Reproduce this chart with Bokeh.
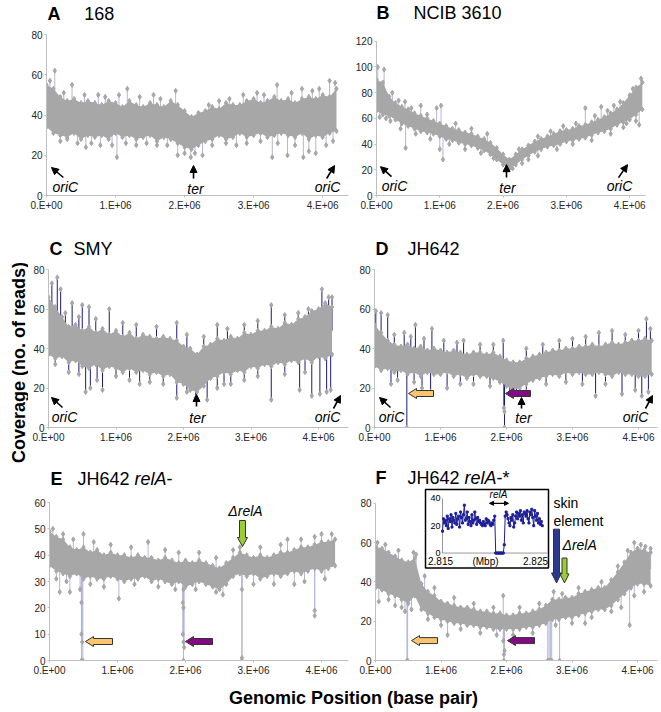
from math import pi
import numpy as np
from bokeh.plotting import figure
from bokeh.layouts import row, column
from bokeh.models import FixedTicker, Label, Range1d, Arrow, NormalHead
from bokeh.embed import file_html
from bokeh.resources import INLINE

FONT = "Liberation Sans"
GRAY = "#A7A7A7"
LAV = "#B4B4DA"
NAVY = "#1A1A80"

# genomic positions (Mbp) of the sampled band
POS = [0.0, 0.1, 0.2, 0.3, 0.4, 0.5, 0.6, 0.7, 0.8, 0.9,
       1.0, 1.1, 1.2, 1.3, 1.4, 1.5, 1.6, 1.7, 1.8, 1.9,
       2.0, 2.1, 2.2, 2.3, 2.4, 2.5, 2.6, 2.7, 2.8, 2.9,
       3.0, 3.1, 3.2, 3.3, 3.4, 3.5, 3.6, 3.7, 3.8, 3.9,
       4.0, 4.1, 4.2]
X_TICKS = [0, 1, 2, 3, 4]
X_TICK_LABELS = ["0.E+00", "1.E+06", "2.E+06", "3.E+06", "4.E+06"]

# Panel A: 168
A_LO = [34,31,30,29,31,28,30,29,30,28,31,29,30,28,29,30,27,29,28,26,24,23,25,27,28,30,28,29,31,29,30,31,29,30,31,30,29,31,28,30,29,31,32]
A_HI = [55,53,49,47,48,46,47,46,45,47,46,44,47,45,44,46,45,44,47,45,42,39,41,42,44,43,46,45,45,47,48,46,47,49,47,48,46,48,49,48,50,49,53]
A_SPK_X = [0.05,0.12,0.37,1.17,1.87,3.34,4.10,4.18,2.50,3.70,0.57,0.78,1.02,1.30,1.90,2.09,2.26,2.90,3.27,3.49,3.72,3.90,0.30,
           0.25,0.55,0.75,0.85,1.05,1.35,1.55,1.65,2.35,2.65,2.85,3.05,3.15,3.55,3.85,3.95,
           0.20,0.45,0.65,0.95,1.15,1.45,1.60,1.75,2.00,2.15,2.40,2.60,2.75,3.10,3.35,3.60,3.80,4.05,4.15]
A_SPK_V = [57,62,55,53,52,55,57,56,47,53,24,25,19,25,20,19,20,26,19,20,19,21,28,
           51,50,50,49,50,49,50,48,45,48,50,51,50,51,52,53,
           27,26,26,25,26,26,25,25,21,21,25,26,25,27,26,25,22,25,27]

# Panel B: NCIB 3610
B_LO = [66,63,62,59,56,54,52,50,49,48,46,44,43,41,40,39,37,35,32,28,24,21,24,28,31,34,36,38,39,40,42,43,44,45,47,49,50,52,55,57,59,63,67]
B_HI = [90,88,77,72,69,67,64,62,60,58,56,54,52,51,49,48,46,44,41,37,32,28,32,36,39,42,44,46,48,50,51,52,54,55,57,59,61,64,67,72,78,84,88]
B_SPK_X = [0.02,0.12,0.45,0.70,0.95,1.02,3.30,3.55,3.75,0.05,0.46,1.00,1.05,2.40,3.95,4.15,0.15,
           0.25,0.35,0.55,0.80,1.25,1.50,1.75,2.25,2.55,2.75,2.95,3.15,3.45,3.65,3.85,4.05,4.18,
           0.22,0.38,0.62,0.85,1.15,1.40,1.65,1.85,2.15,2.30,2.55,2.85,3.10,3.40,3.70,3.90,4.10]
B_SPK_V = [100,98,73,70,68,70,68,69,70,61,37,36,28,28,56,55,60,
           80,74,68,63,56,52,48,36,46,50,54,56,62,66,73,83,91,
           58,52,48,44,40,36,33,29,21,25,31,36,40,43,48,53,58]

# Panel C: SMY
C_LO = [37,35,36,33,34,31,30,32,29,31,30,28,30,28,29,27,28,26,27,23,22,19,18,21,25,26,28,27,29,28,31,30,32,31,33,32,34,33,35,33,36,35,37]
C_HI = [66,61,56,51,52,49,51,48,50,47,49,46,48,45,47,46,45,46,45,44,41,40,37,41,42,45,44,46,45,48,47,49,49,51,50,53,52,55,56,59,60,63,61]
C_SPK_X = [0.05,0.13,0.18,0.35,0.50,0.60,0.90,1.90,2.50,3.30,3.70,4.05,4.15,0.10,0.55,0.62,0.72,0.80,1.00,1.35,1.90,2.18,2.35,2.50,2.70,3.30,3.72,3.90,4.02,4.12,4.18,
           0.25,0.45,0.70,1.10,1.30,1.60,2.05,2.30,2.65,2.90,3.10,3.50,3.85,4.20,
           0.30,0.45,1.20,1.50,1.70,2.05,2.60,2.90,3.10,3.50,3.80]
C_SPK_V = [73,76,70,63,62,61,60,53,52,62,58,70,66,32,18,20,24,19,26,22,15,15,14,20,22,14,19,16,17,18,19,
           58,56,55,53,52,51,47,46,50,52,54,57,60,66,
           28,27,24,23,22,18,22,24,26,27,28]

# Panel D: JH642
D_LO = [31,29,30,28,29,27,28,26,28,27,27,28,26,27,25,27,26,26,25,23,21,19,20,22,24,25,26,27,26,28,27,28,27,27,28,27,26,28,27,27,26,26,27]
D_HI = [52,48,44,42,41,42,40,41,39,40,39,38,39,38,37,38,38,37,38,36,34,33,33,35,36,37,38,39,39,40,40,41,41,42,41,42,43,42,43,44,44,45,44]
D_SPK_X = [0.02,0.10,0.20,0.45,0.62,0.87,1.35,1.95,3.40,3.60,4.12,4.18,0.49,1.97,1.97,1.96,0.25,0.72,0.85,1.10,2.15,3.35,3.75,3.95,4.05,4.15,
           0.30,0.55,0.75,1.05,1.25,1.60,1.80,2.30,2.55,2.80,3.00,3.20,3.80,4.00,
           0.35,0.60,1.30,1.50,1.75,2.05,2.30,2.60,2.90,3.15,3.50]
D_SPK_V = [59,58,57,48,52,50,44,44,48,49,55,50,0,0,8,10,22,20,18,20,17,16,17,19,16,18,
           47,46,45,44,43,42,42,40,42,44,45,46,47,49,
           24,23,22,22,21,17,18,22,23,22,22]

# Panel E: JH642 relA-
E_LO = [36,34,33,32,33,31,32,31,31,32,31,30,31,31,32,30,31,30,29,30,28,29,30,29,28,27,29,32,33,32,33,31,32,33,32,33,34,33,34,35,34,35,36]
E_HI = [49,47,46,43,42,43,41,42,40,41,40,40,39,40,39,39,38,39,38,37,38,37,38,37,36,35,37,39,41,40,39,40,39,40,41,41,42,43,43,44,45,45,46]
E_SPK_X = [0.05,0.50,1.45,2.70,3.40,3.50,4.00,0.47,0.47,0.48,0.47,0.49,1.97,1.96,1.97,1.96,1.97,1.98,1.97,2.83,2.83,2.83,3.90,3.90,0.15,0.30,1.02,0.45,3.60,
           0.20,0.35,0.65,0.90,1.20,1.70,1.90,2.20,2.45,2.80,3.10,3.70,3.90,4.15,
           0.10,0.25,0.60,0.80,1.25,1.60,1.85,2.15,2.45,2.55,3.00,3.30,3.75,4.05]
E_SPK_V = [50,48,45,42,44,46,48,22,10,7,0,0,27,22,20,10,7,5,0,27,1,0,19,17,26,26,23.5,27,29,
           48,46,45,44,43,42,41,41,39,43,43,46,47,48,
           31,30,29,28,29,28,27,27,26,25,29,29,30,31]

# Panel F: JH642 relA-*
F_LO = [37,36,34,33,31,29,33,26,24,22,21,20,19,19,18,18,17,17,16,16,16,16,16,17,17,18,19,21,21,22,22,23,24,25,26,26,28,31,34,37,39,39,38]
F_HI = [58,57,55,53,51,50,52,39,35,33,30,29,28,27,27,26,25,25,24,24,23,23,24,24,25,26,28,31,31,32,32,34,35,36,37,37,41,45,50,55,57,56,55]
F_SPK_X = [0.03,0.62,1.95,2.72,3.85,3.95,4.12,0.48,0.49,0.45,1.96,1.96,1.97,1.95,2.63,2.65,2.67,2.69,2.81,3.88,0.05,0.30,1.10,3.20,
           0.15,0.35,0.58,0.75,0.90,1.20,1.50,1.80,2.20,2.50,2.85,3.10,3.45,3.70,4.05,4.20,
           0.20,0.40,0.55,0.80,1.00,1.30,1.60,1.85,2.10,2.40,2.75,3.00,3.30,3.60,3.75,3.95,4.10]
F_SPK_V = [60,54,33,35,56,60,58,0,0,25,0,3,5,10,0,0,0,0,0,18,30,28,13,19,
           59,56,55,43,37,32,29,27,27,29,34,37,40,48,59,57,
           31,27,26,21,18,16,14,13,13,14,18,19,22,25,27,33,35]

# Inset (relA region, Mbp)
INSET_START = 2.815
INSET_STEP = 0.0001
INSET_V = [16,25,22,24,20,27,18,25,23,28,19,26,24,22,29,21,25,27,19,30,
           26,22,28,35,24,25,30,21,26,23,20,28,22,24,30,25,21,26,23,24,
           22,21,20,23,21,20,25,22,24,23,21,20,22,21,24,27,
           0,0,0,0,0,0,0,0,0,6,
           27,30,28,25,22,20,26,24,28,19,22,27,30,25,29,27,31,24,28,22,
           30,29,27,31,25,22,30,28,32,26,20,31,27,24,29,22,25,21,23,20]
INSET_X = [INSET_START + INSET_STEP * i for i in range(len(INSET_V))]


def make_panel(ox, oy, w, h, bl, br, ftop, atop, abot, xe, yticks):
    ymax = yticks[-1]
    bt = ftop - oy
    fh = abot - ftop
    bb = h - bt - fh
    ye = ymax * (abot - ftop) / (abot - atop)
    p = figure(width=w, height=h, x_range=Range1d(0, xe), y_range=Range1d(0, ye),
               output_backend="svg", toolbar_location=None, title=None,
               min_border_left=bl, min_border_right=br, min_border_top=bt, min_border_bottom=bb)
    p.grid.visible = False
    p.outline_line_color = None
    p.xaxis.ticker = FixedTicker(ticks=X_TICKS)
    p.xaxis.major_label_overrides = {t: l for t, l in zip(X_TICKS, X_TICK_LABELS)}
    p.yaxis.ticker = FixedTicker(ticks=yticks)
    p.yaxis.bounds = (0, ymax)
    for ax in p.axis:
        ax.axis_line_color = "#BFBFBF"
        ax.major_tick_line_color = "#BFBFBF"
        ax.minor_tick_line_color = None
        ax.major_tick_out = 2
        ax.major_tick_in = 0
        ax.major_label_standoff = 2
        ax.major_label_text_font = FONT
        ax.major_label_text_font_size = "10px"
        ax.major_label_text_color = "#262626"
    fl = ox + bl
    fw = w - bl - br
    geom = dict(fl=fl, ft=ftop, fw=fw, fh=fh)

    def dx(px):
        return (px - fl) / fw * xe

    def dy(py):
        return ye - (py - ftop) / fh * ye
    return p, dx, dy, geom


def draw_data(p, lo, hi, sx, sv, line_col):
    lo = np.array(lo, float)
    hi = np.array(hi, float)
    mid = (lo + hi) / 2
    anchor = np.interp(sx, POS, mid)
    p.segment(x0=sx, y0=anchor, x1=sx, y1=sv, line_color=line_col, line_width=1)
    p.varea(x=POS, y1=lo, y2=hi, fill_color=GRAY)
    p.scatter(POS, lo, marker="diamond", size=5, color=GRAY)
    p.scatter(POS, hi, marker="diamond", size=5, color=GRAY)
    p.scatter(sx, sv, marker="diamond", size=5, color=GRAY)


def txt(p, dx, dy, px, py, s, size="14px", style="normal", align="left"):
    p.add_layout(Label(x=dx(px), y=dy(py), text=s, text_font=FONT, text_font_size=size,
                       text_font_style=style, text_align=align, text_baseline="middle",
                       text_color="black"))


def thin_arrow(p, dx, dy, x0, y0, x1, y1):
    p.add_layout(Arrow(end=NormalHead(size=7, fill_color="black", line_color="black", line_width=1),
                       x_start=dx(x0), y_start=dy(y0), x_end=dx(x1), y_end=dy(y1),
                       line_width=1.6, line_color="black"))


def block_arrow(p, dx, dy, tipx, tipy, direction, length, head_len, head_w, body_w, fill):
    shape = [(0, 0), (head_len, -head_w / 2), (head_len, -body_w / 2), (length, -body_w / 2),
             (length, body_w / 2), (head_len, body_w / 2), (head_len, head_w / 2)]
    if direction == "left":
        page = [(tipx + a, tipy + b) for a, b in shape]
    else:
        page = [(tipx + b, tipy - a) for a, b in shape]
    p.patch([dx(a) for a, _ in page], [dy(b) for _, b in page],
            fill_color=fill, line_color="#333333", line_width=1)


def title(p, dx, dy, letter, lx, parts, py):
    txt(p, dx, dy, lx, py, letter, size="18px", style="bold")
    for px, s, st in parts:
        txt(p, dx, dy, px, py, s, size="18px", style=st)


ORANGE = "#FBC46F"
PURPLE = "#820A82"
GREEN = "#9ACD32"
BLUE = "#2B3990"

LW, RW = 322, 309   # left / right column widths
LX, RX = 28, 350    # left / right column page x

# ---------------- A ----------------
pA, dxA, dyA, gA = make_panel(LX, 0, LW, 236, 16, 2, 2, 34, 195, 4.374, [0, 20, 40, 60, 80])
draw_data(pA, A_LO, A_HI, A_SPK_X, A_SPK_V, LAV)
title(pA, dxA, dyA, "A", 45, [(82, "168", "normal")], 13)
thin_arrow(pA, dxA, dyA, 61, 177, 49, 167)
txt(pA, dxA, dyA, 63, 186, "oriC", style="italic", align="center")
thin_arrow(pA, dxA, dyA, 192, 178, 192, 165)
txt(pA, dxA, dyA, 194, 188, "ter", style="italic", align="center")
thin_arrow(pA, dxA, dyA, 326, 178, 334, 165)
txt(pA, dxA, dyA, 327, 186, "oriC", style="italic", align="center")

# ---------------- B ----------------
pB, dxB, dyB, gB = make_panel(RX, 0, RW, 236, 26, 14, 2, 41, 196, 4.25, [0, 20, 40, 60, 80, 100, 120])
draw_data(pB, B_LO, B_HI, B_SPK_X, B_SPK_V, LAV)
title(pB, dxB, dyB, "B", 376, [(413, "NCIB 3610", "normal")], 13)
thin_arrow(pB, dxB, dyB, 391, 177, 380, 167)
txt(pB, dxB, dyB, 394, 186, "oriC", style="italic", align="center")
thin_arrow(pB, dxB, dyB, 506, 178, 506, 165)
txt(pB, dxB, dyB, 507, 188, "ter", style="italic", align="center")
thin_arrow(pB, dxB, dyB, 618, 178, 627, 165)
txt(pB, dxB, dyB, 619, 186, "oriC", style="italic", align="center")

# ---------------- C ----------------
pC, dxC, dyC, gC = make_panel(LX, 236, LW, 230, 20, 2, 238, 269, 427, 4.444, [0, 20, 40, 60, 80])
draw_data(pC, C_LO, C_HI, C_SPK_X, C_SPK_V, NAVY)
title(pC, dxC, dyC, "C", 49, [(73, "SMY", "normal")], 248)
thin_arrow(pC, dxC, dyC, 62, 407, 51, 397)
txt(pC, dxC, dyC, 64, 416, "oriC", style="italic", align="center")
thin_arrow(pC, dxC, dyC, 196, 406, 196, 394)
txt(pC, dxC, dyC, 197, 417, "ter", style="italic", align="center")
thin_arrow(pC, dxC, dyC, 333, 408, 340, 395)
txt(pC, dxC, dyC, 327, 416, "oriC", style="italic", align="center")

# ---------------- D ----------------
pD, dxD, dyD, gD = make_panel(RX, 236, RW, 230, 24, 2, 238, 269, 427, 4.288, [0, 20, 40, 60, 80])
draw_data(pD, D_LO, D_HI, D_SPK_X, D_SPK_V, NAVY)
title(pD, dxD, dyD, "D", 375, [(407, "JH642", "normal")], 248)
thin_arrow(pD, dxD, dyD, 390, 407, 379, 397)
txt(pD, dxD, dyD, 391, 416, "oriC", style="italic", align="center")
thin_arrow(pD, dxD, dyD, 521, 408, 521, 397)
txt(pD, dxD, dyD, 523, 417, "ter", style="italic", align="center")
thin_arrow(pD, dxD, dyD, 645, 408, 652, 395)
txt(pD, dxD, dyD, 635, 416, "oriC", style="italic", align="center")
block_arrow(pD, dxD, dyD, 408, 393, "left", 25, 8, 10, 6, ORANGE)
block_arrow(pD, dxD, dyD, 505, 393, "left", 25, 8, 10, 6, PURPLE)

# ---------------- E ----------------
pE, dxE, dyE, gE = make_panel(LX, 466, LW, 220, 21, 2, 468, 502, 660, 4.397, [0, 10, 20, 30, 40, 50, 60])
draw_data(pE, E_LO, E_HI, E_SPK_X, E_SPK_V, LAV)
title(pE, dxE, dyE, "E", 50, [(77, "JH642 ", "normal"), (134, "relA", "italic"), (166, "-", "normal")], 478)
block_arrow(pE, dxE, dyE, 242, 546, "down", 26, 9, 10, 6, GREEN)
txt(pE, dxE, dyE, 245, 510, "\u0394relA", style="italic", align="center")
block_arrow(pE, dxE, dyE, 85, 641, "left", 27, 8, 10, 6, ORANGE)
block_arrow(pE, dxE, dyE, 185, 641, "left", 27, 8, 10, 6, PURPLE)

# ---------------- F ----------------
pF, dxF, dyF, gF = make_panel(RX, 466, RW, 220, 25, 2, 468, 503, 661, 4.305, [0, 20, 40, 60, 80])
draw_data(pF, F_LO, F_HI, F_SPK_X, F_SPK_V, LAV)
title(pF, dxF, dyF, "F", 375, [(407, "JH642 ", "normal"), (464, "relA", "italic"), (496, "-*", "normal")], 478)
block_arrow(pF, dxF, dyF, 411, 641, "left", 26, 8, 10, 6, ORANGE)
block_arrow(pF, dxF, dyF, 507, 641, "left", 27, 8, 10, 6, PURPLE)
block_arrow(pF, dxF, dyF, 556, 583, "down", 54, 10, 10, 6, BLUE)
block_arrow(pF, dxF, dyF, 564, 583, "down", 25, 9, 9, 5, GREEN)
txt(pF, dxF, dyF, 553, 503, "skin")
txt(pF, dxF, dyF, 553, 521, "element")
txt(pF, dxF, dyF, 562, 545, "\u0394relA", style="italic")

# inset inside F, on its own scales
IN_S = 9500.0          # px per Mbp
IN_Y = 1.375           # px per read
ix0 = INSET_START - (442 - gF["fl"]) / IN_S
iy1 = (553 - gF["ft"]) / IN_Y
pF.extra_x_ranges = {"ix": Range1d(ix0, ix0 + gF["fw"] / IN_S)}
pF.extra_y_ranges = {"iy": Range1d(iy1 - gF["fh"] / IN_Y, iy1)}
pF.quad(left=dxF(425), right=dxF(548), top=dyF(489), bottom=dyF(568),
        fill_color="white", line_color="black", line_width=1.5)
pF.segment(x0=[dxF(442), dxF(442)], y0=[dyF(553), dyF(553)], x1=[dxF(442), dxF(547)],
           y1=[dyF(498), dyF(553)], line_color="#999999", line_width=1)
pF.line(INSET_X, INSET_V, x_range_name="ix", y_range_name="iy", line_color="#1F1F99", line_width=1)
pF.scatter(INSET_X, INSET_V, x_range_name="ix", y_range_name="iy", marker="square",
           size=2, color="#1F1F99")
for py, s in [(498, "40"), (525.5, "20"), (553, "0")]:
    txt(pF, dxF, dyF, 440, py, s, size="9px", align="right")
txt(pF, dxF, dyF, 440, 561, "2.815", size="10px", align="center")
txt(pF, dxF, dyF, 485, 561, "(Mbp)", size="10px", align="center")
txt(pF, dxF, dyF, 535, 561, "2.825", size="10px", align="center")
txt(pF, dxF, dyF, 498, 494, "relA", size="10px", style="italic", align="center")
pF.add_layout(Arrow(start=NormalHead(size=4, fill_color="black", line_color="black"),
                    end=NormalHead(size=4, fill_color="black", line_color="black"),
                    x_start=dxF(489), y_start=dyF(503), x_end=dxF(508), y_end=dyF(503),
                    line_width=1.2, line_color="black"))

# ---------------- shared axis labels ----------------
ylab = figure(width=LX, height=686, x_range=Range1d(0, LX), y_range=Range1d(0, 686),
              output_backend="svg", toolbar_location=None, title=None, min_border=0,
              x_axis_type=None, y_axis_type=None)
ylab.outline_line_color = None
ylab.add_layout(Label(x=18, y=686 - 362, text="Coverage (no. of reads)", angle=pi / 2,
                      text_align="center", text_baseline="middle", text_font=FONT,
                      text_font_style="bold", text_font_size="18px", text_color="black"))

xlab = figure(width=LX + LW + RW, height=24, x_range=Range1d(0, LX + LW + RW), y_range=Range1d(0, 24),
              output_backend="svg", toolbar_location=None, title=None, min_border=0,
              x_axis_type=None, y_axis_type=None)
xlab.outline_line_color = None
xlab.add_layout(Label(x=353, y=13, text="Genomic Position (base pair)",
                      text_align="center", text_baseline="middle", text_font=FONT,
                      text_font_style="bold", text_font_size="18px", text_color="black"))

grid = column(row(pA, pB), row(pC, pD), row(pE, pF))
layout = column(row(ylab, grid), xlab)

open("out.html", "w").write(file_html(layout, INLINE))
